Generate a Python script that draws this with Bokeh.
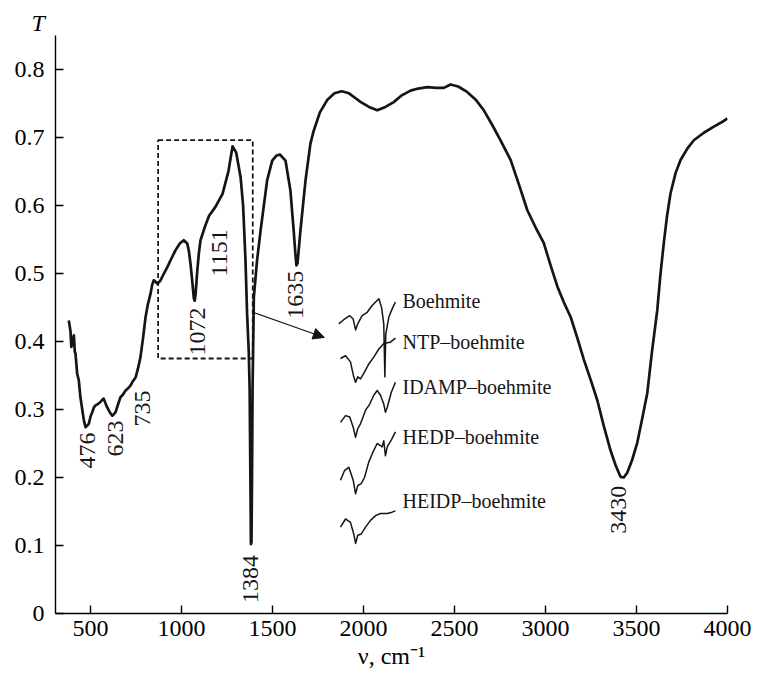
from bokeh.plotting import figure
from bokeh.models import (Range1d, FixedTicker, CustomJSTickFormatter,
                          Arrow, NormalHead, ColumnDataSource, Title)
from bokeh.core.properties import value
from bokeh.embed import file_html
from bokeh.resources import INLINE

# ---- main spectrum (wavenumber, transmittance) ----
wavenumber = [380, 389, 394, 399, 404, 408, 413, 417, 426, 435, 444, 454, 463, 472, 480,
              490, 500, 509, 518, 527, 540, 554, 563, 572, 582, 591, 605, 619, 628, 637,
              650, 664, 678, 692, 705, 719, 733, 747, 760, 774, 788, 802, 815, 829, 838,
              847, 856, 866, 875, 884, 903, 921, 944, 966, 990, 1012, 1031, 1040, 1049,
              1058, 1067, 1072, 1077, 1086, 1095, 1104, 1131, 1151, 1186, 1225, 1258,
              1280, 1300, 1324, 1338, 1351, 1360, 1369, 1374, 1378, 1381, 1384, 1387,
              1390, 1397, 1415, 1434, 1470, 1498, 1520, 1540, 1571, 1598, 1616, 1625,
              1631, 1637, 1653, 1681, 1708, 1726, 1760, 1800, 1840, 1880, 1920, 1960,
              1985, 2030, 2075, 2120, 2166, 2210, 2258, 2300, 2350, 2400, 2441, 2478,
              2520, 2569, 2615, 2661, 2708, 2752, 2808, 2855, 2900, 2945, 2990, 3030,
              3065, 3100, 3138, 3175, 3211, 3250, 3284, 3320, 3357, 3385, 3412, 3430,
              3449, 3475, 3504, 3530, 3559, 3585, 3614, 3632, 3650, 3668, 3687, 3715,
              3742, 3780, 3815, 3870, 3925, 3965, 4000]
transmittance = [0.431, 0.416, 0.392, 0.397, 0.404, 0.409, 0.385, 0.382, 0.353, 0.343,
                 0.318, 0.300, 0.284, 0.274, 0.276, 0.279, 0.290, 0.296, 0.303, 0.306,
                 0.308, 0.311, 0.314, 0.316, 0.309, 0.303, 0.296, 0.291, 0.293, 0.296,
                 0.307, 0.318, 0.322, 0.328, 0.331, 0.335, 0.342, 0.347, 0.360, 0.377,
                 0.405, 0.436, 0.455, 0.470, 0.483, 0.490, 0.488, 0.485, 0.487, 0.490,
                 0.500, 0.509, 0.522, 0.534, 0.544, 0.549, 0.544, 0.533, 0.514, 0.490,
                 0.464, 0.460, 0.470, 0.504, 0.530, 0.549, 0.571, 0.585, 0.598, 0.617,
                 0.651, 0.687, 0.678, 0.642, 0.600, 0.520, 0.440, 0.385, 0.330, 0.200,
                 0.102, 0.105, 0.200, 0.330, 0.465, 0.520, 0.563, 0.637, 0.666, 0.673,
                 0.675, 0.666, 0.622, 0.563, 0.530, 0.512, 0.515, 0.563, 0.637, 0.691,
                 0.710, 0.737, 0.755, 0.765, 0.768, 0.765, 0.757, 0.752, 0.745, 0.740,
                 0.745, 0.752, 0.762, 0.769, 0.772, 0.774, 0.773, 0.773, 0.778, 0.775,
                 0.767, 0.756, 0.740, 0.718, 0.696, 0.667, 0.630, 0.593, 0.568, 0.545,
                 0.510, 0.481, 0.458, 0.436, 0.405, 0.373, 0.342, 0.314, 0.276, 0.240,
                 0.218, 0.201, 0.200, 0.207, 0.225, 0.251, 0.285, 0.324, 0.385, 0.446,
                 0.500, 0.545, 0.585, 0.618, 0.648, 0.667, 0.684, 0.696, 0.707, 0.716,
                 0.722, 0.728]

# ---- peak annotations ----
peak_labels = ["476", "623", "735", "1072", "1151", "1384", "1635", "3430"]
peak_x = [483, 637, 785, 1090, 1208, 1378, 1626, 3401]
peak_top = [0.266, 0.284, 0.328, 0.450, 0.565, 0.086, 0.504, 0.188]

# ---- dashed zoom box and arrow ----
box_left, box_right, box_bottom, box_top = 871, 1391, 0.375, 0.696
arrow_start = (1391, 0.443)
arrow_end = (1784, 0.406)

# ---- inset traces ----
inset_names = ["Boehmite", "NTP\u2013boehmite", "IDAMP\u2013boehmite",
               "HEDP\u2013boehmite", "HEIDP\u2013boehmite"]
inset_label_x = 2214
inset_label_y = [0.460, 0.399, 0.333, 0.259, 0.166]

boehmite_x = [1864, 1891, 1924, 1943, 1956, 1968, 1992, 2020, 2047, 2084, 2099, 2111,
              2117, 2122, 2139, 2157, 2175]
boehmite_y = [0.426, 0.432, 0.438, 0.433, 0.417, 0.426, 0.438, 0.443, 0.453, 0.463,
              0.450, 0.426, 0.348, 0.411, 0.436, 0.448, 0.458]
ntp_x = [1873, 1901, 1928, 1946, 1956, 1968, 1983, 2001, 2029, 2056, 2084, 2111, 2130,
         2148, 2175]
ntp_y = [0.375, 0.379, 0.370, 0.348, 0.340, 0.348, 0.345, 0.353, 0.367, 0.377, 0.389,
         0.397, 0.398, 0.399, 0.405]
idamp_x = [1873, 1901, 1924, 1943, 1956, 1968, 1983, 2011, 2034, 2056, 2075, 2093, 2111,
           2120, 2130, 2152, 2175]
idamp_y = [0.281, 0.291, 0.289, 0.274, 0.259, 0.272, 0.279, 0.299, 0.308, 0.321, 0.328,
           0.321, 0.308, 0.296, 0.303, 0.325, 0.340]
hedp_x = [1873, 1895, 1919, 1943, 1956, 1968, 1987, 2005, 2029, 2056, 2075, 2093, 2102,
          2111, 2120, 2130, 2152, 2175]
hedp_y = [0.196, 0.210, 0.215, 0.196, 0.176, 0.188, 0.191, 0.200, 0.223, 0.240, 0.250,
          0.247, 0.245, 0.254, 0.232, 0.245, 0.255, 0.267]
heidp_x = [1873, 1901, 1928, 1946, 1956, 1968, 1987, 2011, 2038, 2066, 2093, 2130, 2157,
           2175]
heidp_y = [0.127, 0.139, 0.134, 0.117, 0.103, 0.115, 0.117, 0.127, 0.137, 0.144, 0.147,
           0.147, 0.149, 0.151]

x_ticks = [500, 1000, 1500, 2000, 2500, 3000, 3500, 4000]
y_ticks = [0, 0.1, 0.2, 0.3, 0.4, 0.5, 0.6, 0.7, 0.8]

SERIF = "Liberation Serif"
INK = "#151515"

p = figure(width=752, height=676, output_backend="svg", toolbar_location=None,
           x_range=Range1d(307, 4000), y_range=Range1d(0, 0.85),
           min_border_left=55, min_border_right=25, min_border_top=35,
           min_border_bottom=63)
p.outline_line_color = None
p.xgrid.visible = False
p.ygrid.visible = False
p.background_fill_color = "white"

for ax in (p.xaxis[0], p.yaxis[0]):
    ax.axis_line_color = "black"
    ax.axis_line_width = 1.4
    ax.major_tick_line_color = "black"
    ax.major_tick_line_width = 1.4
    ax.major_tick_in = 8
    ax.major_tick_out = 0
    ax.minor_tick_line_color = None
    ax.major_label_text_font = SERIF
    ax.major_label_text_font_size = "24px"
    ax.major_label_text_color = "black"

p.xaxis.ticker = FixedTicker(ticks=x_ticks)
p.yaxis.ticker = FixedTicker(ticks=y_ticks)
p.yaxis.formatter = CustomJSTickFormatter(code="return tick == 0 ? '0' : tick.toFixed(1);")
p.xaxis.major_label_standoff = 7
p.yaxis.major_label_standoff = 11

p.xaxis.axis_label = "\u03bd, cm\u207b\u00b9"
p.xaxis.axis_label_text_font = SERIF
p.xaxis.axis_label_text_font_style = "normal"
p.xaxis.axis_label_text_font_size = "24px"
p.xaxis.axis_label_text_color = "black"
p.xaxis.axis_label_standoff = 4

# "T" as title at top-left
t = Title(text="T", align="left", offset=-24, standoff=0,
          text_font=SERIF, text_font_style="italic", text_font_size="24px",
          text_color="black")
p.add_layout(t, "above")

# main spectrum
p.line(wavenumber, transmittance, line_color=INK, line_width=2.7, line_join="round")

# dashed box
p.quad(left=[box_left], right=[box_right], bottom=[box_bottom], top=[box_top],
       fill_color=None, line_color=INK, line_width=1.8, line_dash="5 3")

# arrow
p.add_layout(Arrow(end=NormalHead(size=11, fill_color=INK, line_color=INK, line_width=1),
                   x_start=arrow_start[0], y_start=arrow_start[1],
                   x_end=arrow_end[0], y_end=arrow_end[1],
                   line_color=INK, line_width=1.1))

# inset traces
for xs, ys in [(boehmite_x, boehmite_y), (ntp_x, ntp_y), (idamp_x, idamp_y),
               (hedp_x, hedp_y), (heidp_x, heidp_y)]:
    p.line(xs, ys, line_color=INK, line_width=1.5, line_join="round")

p.text(x=[inset_label_x] * len(inset_names), y=inset_label_y, text=inset_names,
       text_font=value(SERIF), text_font_size="20px", text_color=INK,
       text_align="left", text_baseline="middle")

# peak labels (vertical)
src = ColumnDataSource(dict(x=peak_x, y=peak_top, t=peak_labels))
p.text(x="x", y="y", text="t", source=src, angle=1.5707963, text_font=value(SERIF),
       text_font_size="24px", text_color=INK, text_align="right", text_baseline="middle")

open("out.html", "w").write(file_html(p, INLINE))
